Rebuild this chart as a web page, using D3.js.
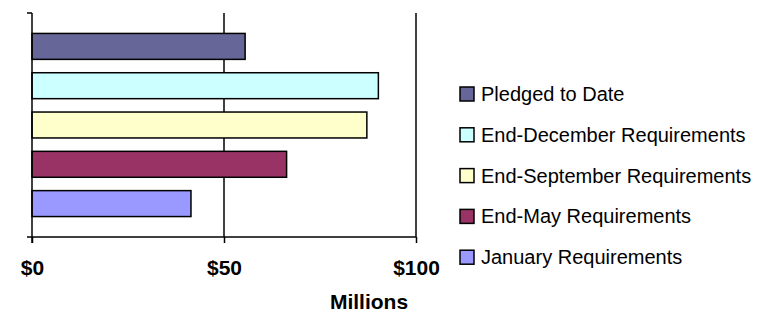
<!DOCTYPE html>
<html>
<head>
<meta charset="utf-8">
<script src="https://cdn.jsdelivr.net/npm/d3@7"></script>
<style>
  body { margin: 0; background: #fff; }
  svg { display: block; font-family: Arial, "Liberation Sans", sans-serif; }
</style>
</head>
<body>
<div id="chart"></div>
<script>
// top-to-bottom order, as drawn
const categories = [
    'Pledged to Date',
    'End-December Requirements',
    'End-September Requirements',
    'End-May Requirements',
    'January Requirements',
]
const values = [55.5, 90.2, 87.2, 66.3, 41.4]   // US$ millions
const colors = ['#666699', '#CCFFFF', '#FFFFCC', '#993366', '#9999FF']
const xTicks = [0, 50, 100]
const xTitle = 'Millions'

const width = 767, height = 312
const plot = {left: 32, right: 416, top: 13, bottom: 237}

const svg = d3.select('#chart').append('svg')
    .attr('width', width)
    .attr('height', height)

const x = d3.scaleLinear().domain([0, 100]).range([plot.left, plot.right])
const y = d3.scaleBand()
    .domain(categories)
    .range([plot.top, plot.bottom])
    .paddingInner(0.34)
    .paddingOuter(0.52)

// vertical gridlines
svg.append('g')
    .selectAll('line')
    .data(xTicks.slice(1))
    .join('line')
    .attr('x1', d => x(d)).attr('x2', d => x(d))
    .attr('y1', plot.top).attr('y2', plot.bottom)
    .attr('stroke', '#000')
    .attr('stroke-width', 1.5)

// bars
svg.append('g')
    .selectAll('rect')
    .data(categories)
    .join('rect')
    .attr('x', x(0))
    .attr('y', d => y(d))
    .attr('width', (d, i) => x(values[i]) - x(0))
    .attr('height', y.bandwidth())
    .attr('fill', (d, i) => colors[i])
    .attr('stroke', '#000')
    .attr('stroke-width', 1.5)

// x axis
const xAxis = svg.append('g')
    .attr('transform', `translate(0,${plot.bottom})`)
    .call(d3.axisBottom(x).tickValues(xTicks).tickSize(6).tickSizeOuter(0).tickFormat(d => '$' + d))
xAxis.select('.domain').remove()
xAxis.append('line')
    .attr('x1', plot.left - 5).attr('x2', plot.right)
    .attr('stroke', '#000').attr('stroke-width', 1.5)
xAxis.selectAll('.tick line').attr('stroke-width', 1.5)
xAxis.selectAll('.tick text')
    .attr('y', 38)
    .attr('dy', null)
    .attr('fill', '#000')
    .style('font-size', '21px')
    .style('font-weight', 'bold')
    .style('font-family', 'Arial, "Liberation Sans", sans-serif')

// y axis: line with ticks at the two ends only
const yAxis = svg.append('g')
yAxis.append('line')
    .attr('x1', plot.left).attr('x2', plot.left)
    .attr('y1', plot.top).attr('y2', plot.bottom + 6)
    .attr('stroke', '#000').attr('stroke-width', 1.5)
yAxis.append('line')
    .attr('x1', plot.left - 5).attr('x2', plot.left)
    .attr('y1', plot.top).attr('y2', plot.top)
    .attr('stroke', '#000').attr('stroke-width', 1.5)

svg.append('text')
    .attr('x', 369)
    .attr('y', 309)
    .attr('text-anchor', 'middle')
    .style('font-size', '21px')
    .style('font-weight', 'bold')
    .text(xTitle)

// legend
const legend = svg.append('g')
    .attr('transform', 'translate(459,94)')
const items = legend.selectAll('g')
    .data(categories)
    .join('g')
    .attr('transform', (d, i) => `translate(0,${i * 40.8})`)
items.append('rect')
    .attr('x', 1).attr('y', -7)
    .attr('width', 14).attr('height', 14)
    .attr('fill', (d, i) => colors[i])
    .attr('stroke', '#000')
    .attr('stroke-width', 1.5)
items.append('text')
    .attr('x', 22)
    .attr('y', 7)
    .style('font-size', '20px')
    .text(d => d)
</script>
</body>
</html>
